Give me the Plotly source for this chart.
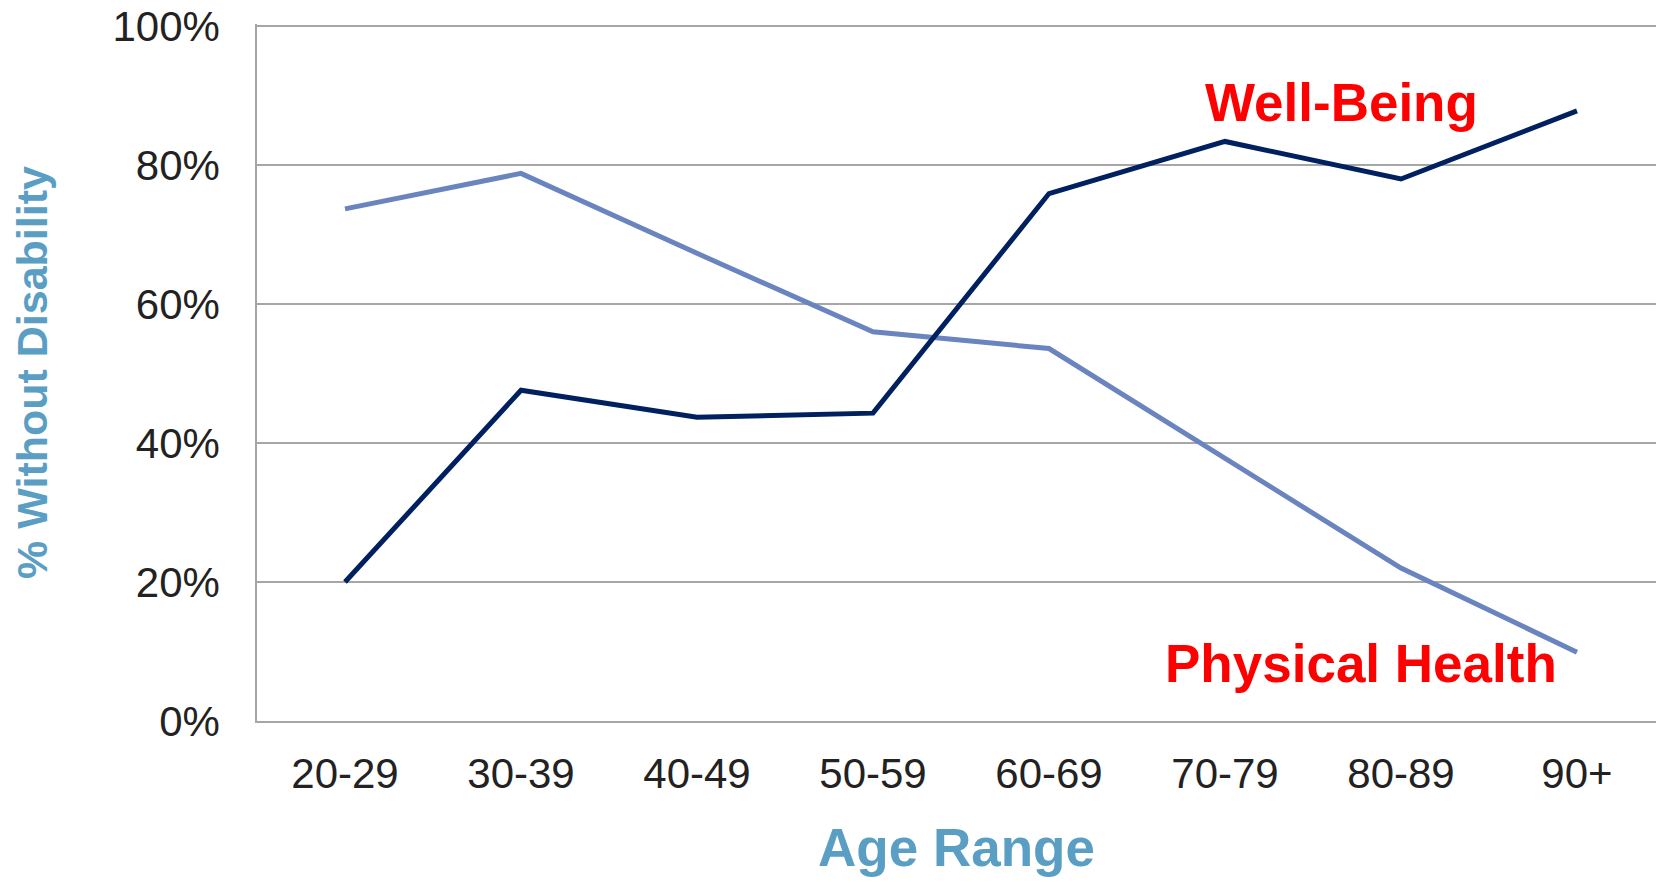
import plotly.graph_objects as go

age_ranges = ["20-29", "30-39", "40-49", "50-59", "60-69", "70-79", "80-89", "90+"]
well_being = [0.200, 0.476, 0.437, 0.443, 0.759, 0.834, 0.780, 0.878]
physical_health = [0.737, 0.788, 0.673, 0.560, 0.536, 0.378, 0.220, 0.099]
y_ticks = [0, 0.2, 0.4, 0.6, 0.8, 1.0]

FONT = "Liberation Sans, Arial, sans-serif"
TITLE_COLOR = "#5B9EC4"
GRID = "#A6A6A6"

fig = go.Figure()
fig.add_trace(go.Scatter(x=age_ranges, y=physical_health, mode="lines",
                         line=dict(color="#6A84BF", width=5), name="Physical Health",
                         showlegend=False))
fig.add_trace(go.Scatter(x=age_ranges, y=well_being, mode="lines",
                         line=dict(color="#002060", width=5), name="Well-Being",
                         showlegend=False))

fig.add_annotation(x=5.66, y=0.89, text="<b>Well-Being</b>", showarrow=False,
                   font=dict(family=FONT, size=53, color="#FF0000"),
                   xanchor="center", yanchor="middle")
fig.add_annotation(x=5.77, y=0.083, text="<b>Physical Health</b>", showarrow=False,
                   font=dict(family=FONT, size=53, color="#FF0000"),
                   xanchor="center", yanchor="middle")

fig.update_layout(
    width=1648, height=869,
    margin=dict(l=249, r=0, t=16, b=156),
    paper_bgcolor="white", plot_bgcolor="white",
    font=dict(family=FONT, color="#222222"),
    xaxis=dict(
        type="category", range=[-0.5, 7.449], automargin=False,
        showgrid=False, showline=True, linecolor=GRID, linewidth=1.5,
        ticks="", tickfont=dict(size=42, color="#222222"),
        ticklabelstandoff=15,
        title=dict(text="<b>Age Range</b>", font=dict(size=53, color=TITLE_COLOR), standoff=42),
    ),
    yaxis=dict(
        range=[0, 1.003], tickvals=y_ticks, tickformat=".0%", automargin=False,
        ticklabeloverflow="allow",
        showgrid=True, gridcolor=GRID, gridwidth=1.5,
        showline=True, linecolor=GRID, linewidth=1.5, zeroline=False,
        ticks="", tickfont=dict(size=42, color="#222222"),
        ticklabelstandoff=27,
        title=dict(text="<b>% Without Disability</b>", font=dict(size=43, color=TITLE_COLOR), standoff=58),
    ),
)

fig.write_html("out.html")
